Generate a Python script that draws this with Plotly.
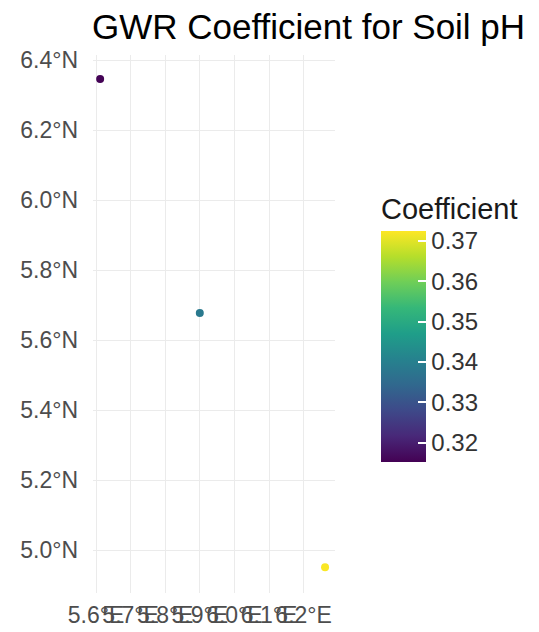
import plotly.graph_objects as go

lon = [5.612, 5.900, 6.262]
lat = [6.346, 5.677, 4.951]
coef = [0.3155, 0.3385, 0.3722]

x_ticks = [5.6, 5.7, 5.8, 5.9, 6.0, 6.1, 6.2]
x_labels = ["5.6°E", "5.7°E", "5.8°E", "5.9°E", "6.0°E", "6.1°E", "6.2°E"]
y_ticks = [5.0, 5.2, 5.4, 5.6, 5.8, 6.0, 6.2, 6.4]
y_labels = ["5.0°N", "5.2°N", "5.4°N", "5.6°N", "5.8°N", "6.0°N", "6.2°N", "6.4°N"]
cb_ticks = [0.32, 0.33, 0.34, 0.35, 0.36, 0.37]

# page body has an 8px margin; lay out in page pixels minus that offset
OFF = 8
W, H = 539 - OFF, 632 - OFF
px_l, px_r, px_t, px_b = 93 - OFF, 335 - OFF, 55 - OFF, 593 - OFF

cb_len = 268          # title + bar
cb_bottom = 462       # page px
cb_center = cb_bottom - cb_len / 2

fig = go.Figure(go.Scatter(
    x=lon, y=lat, mode="markers",
    marker=dict(
        size=8, color=coef, colorscale="Viridis",
        cmin=0.3152, cmax=0.3725,
        colorbar=dict(
            title=dict(text="Coefficient", side="top",
                       font=dict(size=29, color="#1a1a1a")),
            thickness=45, thicknessmode="pixels",
            len=cb_len, lenmode="pixels",
            x=(381 - OFF) / W, xanchor="left", xpad=0,
            y=1 - (cb_center - OFF) / H, yanchor="middle", ypad=0,
            tickvals=cb_ticks, ticktext=[f"{v:.2f}" for v in cb_ticks],
            ticks="inside", ticklen=8, tickcolor="white", tickwidth=1.5,
            tickfont=dict(size=24, color="#333333"),
            outlinewidth=0,
        ),
    ),
    hoverinfo="skip",
))

fig.update_layout(
    width=W, height=H,
    margin=dict(l=0, r=0, t=0, b=0, autoexpand=False),
    paper_bgcolor="white", plot_bgcolor="white",
    font=dict(family="Liberation Sans, Arial, sans-serif"),
    title=dict(text="GWR Coefficient for Soil pH", x=(92 - OFF) / W, xanchor="left",
               y=1 - (27 - OFF) / H, yanchor="middle",
               font=dict(size=35, color="#000000")),
    showlegend=False,
    xaxis=dict(
        domain=[px_l / W, px_r / W],
        range=[5.6 - 3 / 346, 5.6 + 239 / 346],
        tickvals=x_ticks, ticktext=x_labels, tickangle=0,
        tickfont=dict(size=23, color="#4d4d4d"),
        showgrid=True, gridcolor="#ebebeb", gridwidth=1,
        zeroline=False, showline=False, ticks="", ticklabelstandoff=6,
        automargin=False,
    ),
    yaxis=dict(
        domain=[1 - px_b / H, 1 - px_t / H],
        range=[6.4 - (593 - 60) / 350, 6.4 + (60 - 55) / 350],
        tickvals=y_ticks, ticktext=y_labels,
        tickfont=dict(size=23, color="#4d4d4d"),
        showgrid=True, gridcolor="#ebebeb", gridwidth=1,
        zeroline=False, showline=False, ticks="", ticklabelstandoff=14,
        automargin=False,
    ),
)

fig.write_html("out.html")
